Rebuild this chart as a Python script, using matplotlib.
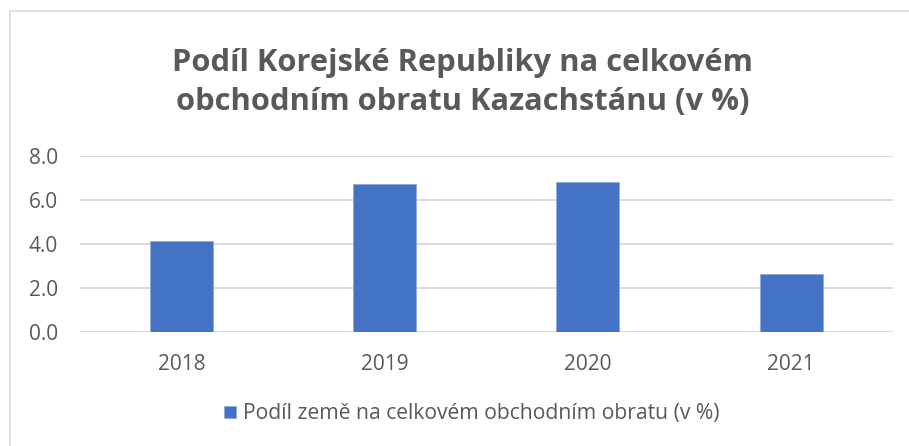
import matplotlib
matplotlib.use('Agg')
import matplotlib.pyplot as plt
from matplotlib.lines import Line2D

years = ['2018', '2019', '2020', '2021']
share = [4.1, 6.7, 6.8, 2.6]
yticks = [0.0, 2.0, 4.0, 6.0, 8.0]
title = 'Podíl Korejské Republiky na celkovém\nobchodním obratu Kazachstánu (v %)'
series_label = 'Podíl země na celkovém obchodním obratu (v %)'

grey = '#595959'
plt.rcParams['font.family'] = ['Open Sans', 'DejaVu Sans']

fig = plt.figure(figsize=(9.09, 4.46), dpi=100)
ax = fig.add_axes([0.088, 0.2563, 0.894, 0.3947])

x = range(len(years))
ax.bar(x, share, width=0.31, color='#4472c4', edgecolor='#8faadc', linewidth=0.6,
       label=series_label, zorder=3)
ax.set_xlim(-0.5, len(years) - 0.5)
ax.set_ylim(0, 8)
ax.set_yticks(yticks)
ax.set_yticklabels(['%.1f' % v for v in yticks])
ax.set_xticks(list(x))
ax.set_xticklabels(years)
ax.grid(axis='y', color='#d9d9d9', linewidth=1.3, zorder=0)
for s in ax.spines.values():
    s.set_visible(False)
ax.tick_params(axis='both', length=0, colors=grey, labelsize=15)
ax.tick_params(axis='y', pad=16)
ax.tick_params(axis='x', pad=16)

fig.text(0.509, 0.815, title, ha='center', va='center', fontsize=22.2,
         fontweight='bold', color=grey, linespacing=1.42)

fig.legend(loc='center', bbox_to_anchor=(0.519, 0.072), frameon=False,
           fontsize=15.2, labelcolor=grey, handlelength=0.55, handleheight=0.55,
           handletextpad=0.35)

# chart frame
fig.add_artist(Line2D([10 / 909, 10 / 909], [0, 1 - 11 / 446], transform=fig.transFigure,
                      color='#d9d9d9', linewidth=1.2))
fig.add_artist(Line2D([10 / 909, 1], [1 - 11 / 446, 1 - 11 / 446], transform=fig.transFigure,
                      color='#d9d9d9', linewidth=1.2))

fig.savefig('out.png', dpi=100)
